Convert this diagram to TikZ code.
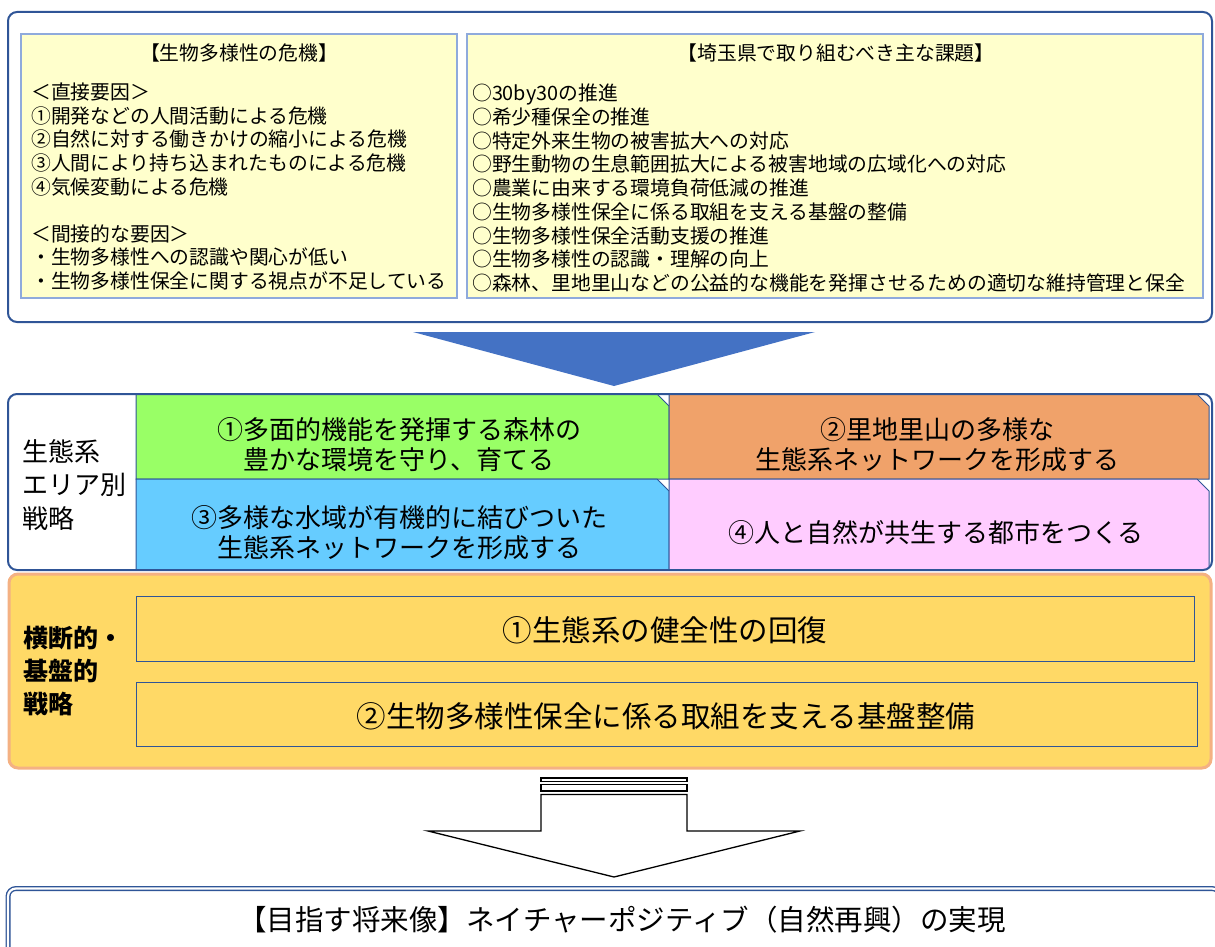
\documentclass[tikz,border=0pt]{standalone}
\usepackage{fontspec}
\setmainfont{Noto Sans CJK JP}

\definecolor{framebl}{HTML}{2F5597}
\definecolor{paleyel}{HTML}{FFFFCC}
\definecolor{edgebl}{HTML}{8FAADC}
\definecolor{arrowbl}{HTML}{4472C4}
\definecolor{forestgr}{HTML}{99FF66}
\definecolor{satoor}{HTML}{F0A26A}
\definecolor{waterbl}{HTML}{66CCFF}
\definecolor{citypk}{HTML}{FFCCFF}
\definecolor{baseyel}{HTML}{FFD966}
\definecolor{baseedge}{HTML}{F4B183}

\tikzset{
  outerbox/.style={draw=framebl, line width=2pt, rounded corners=9pt},
  listbox/.style={draw=edgebl, line width=1.2pt, fill=paleyel},
  cellbox/.style={draw=framebl, line width=1pt},
  listtxt/.style={inner sep=0pt, align=left, anchor=north west,
    font=\fontsize{19.8}{23.7}\selectfont},
  celltxt/.style={inner sep=0pt, align=center,
    font=\fontsize{26}{30}\selectfont},
  sidetxt/.style={inner sep=0pt, align=left, anchor=north west},
  hollowarrow/.style={draw=black, fill=white, line width=1.3pt, line join=miter},
}

\begin{document}
\begin{tikzpicture}[x=1pt, y=-1pt]
  \useasboundingbox (0,0) rectangle (1215,947);
  \clip (0,0) rectangle (1215,947);

  % issues
  \draw[outerbox, fill=white] (8,12) rectangle (1212,322);
  \draw[listbox] (21,34) rectangle (457,298);
  \draw[listbox] (467,34) rectangle (1203,298);

  \node[listtxt, anchor=center] (crisis) at (239,53) {【生物多様性の危機】};
  \node[listtxt] (crisislist) at (31,82.5)
    {＜直接要因＞\\
     ①開発などの人間活動による危機\\
     ②自然に対する働きかけの縮小による危機\\
     ③人間により持ち込まれたものによる危機\\
     ④気候変動による危機\\[23.4pt]
     ＜間接的な要因＞\\
     ・生物多様性への認識や関心が低い\\
     ・生物多様性保全に関する視点が不足している};

  \node[listtxt, anchor=center] (tasks) at (836,53) {【埼玉県で取り組むべき主な課題】};
  \node[listtxt] (tasklist) at (472,84)
    {○30by30の推進\\
     ○希少種保全の推進\\
     ○特定外来生物の被害拡大への対応\\
     ○野生動物の生息範囲拡大による被害地域の広域化への対応\\
     ○農業に由来する環境負荷低減の推進\\
     ○生物多様性保全に係る取組を支える基盤の整備\\
     ○生物多様性保全活動支援の推進\\
     ○生物多様性の認識・理解の向上\\
     ○森林、里地里山などの公益的な機能を発揮させるための適切な維持管理と保全};

  \fill[arrowbl] (413,332) -- (815,332) -- (614,386) -- cycle;

  % area strategies
  \fill[white, rounded corners=9pt] (8,394) rectangle (1212,570);
  \begin{scope}
    \clip[rounded corners=9pt] (8,394) rectangle (1212,570);
    \draw[cellbox, fill=forestgr]
      (136,394) -- (657,394) -- (669,406) -- (669,479) -- (136,479) -- cycle;
    \draw[cellbox, fill=satoor]
      (669,394) -- (1197,394) -- (1209,406) -- (1209,479) -- (669,479) -- cycle;
    \draw[cellbox, fill=waterbl]
      (136,479) -- (657,479) -- (669,491) -- (669,570) -- (136,570) -- cycle;
    \draw[cellbox, fill=citypk]
      (669,479) -- (1197,479) -- (1209,491) -- (1209,570) -- (669,570) -- cycle;
  \end{scope}
  \draw[outerbox] (8,394) rectangle (1212,570);

  \node[sidetxt, font=\fontsize{26}{33.5}\selectfont] (arealbl) at (22,439)
    {生態系\\エリア別\\戦略};
  \node[celltxt] (forest) at (399,445) {①多面的機能を発揮する森林の\\豊かな環境を守り、育てる};
  \node[celltxt] (satoyama) at (937,445) {②里地里山の多様な\\生態系ネットワークを形成する};
  \node[celltxt] (water) at (399,533) {③多様な水域が有機的に結びついた\\生態系ネットワークを形成する};
  \node[celltxt] (city) at (936,533) {④人と自然が共生する都市をつくる};

  % cross-cutting strategies
  \draw[draw=baseedge, line width=3pt, fill=baseyel, rounded corners=9pt]
    (9,574) rectangle (1211,768);
  \draw[cellbox, fill=baseyel] (136,596) rectangle (1194,661);
  \draw[cellbox, fill=baseyel] (136,682) rectangle (1197,746);

  \node[sidetxt, font=\fontsize{25}{33}\selectfont\bfseries] (baselbl) at (23,626)
    {横断的・\\基盤的\\戦略};
  \node[celltxt, font=\fontsize{29.5}{34}\selectfont] (health) at (665,630)
    {①生態系の健全性の回復};
  \node[celltxt, font=\fontsize{29.5}{34}\selectfont] (infra) at (666,716)
    {②生物多様性保全に係る取組を支える基盤整備};

  \draw[hollowarrow] (541,778) rectangle (687,781.5);
  \draw[hollowarrow] (541,784.5) rectangle (687,791);
  \draw[hollowarrow] (541,794.5) -- (687,794.5) -- (687,831) -- (800,831)
    -- (614,877) -- (428,831) -- (541,831) -- cycle;

  % goal
  \draw[draw=framebl, line width=1.4pt, double=white, double distance=2.2pt,
    rounded corners=8pt] (8,888.5) rectangle (1220,990);
  \node[celltxt, font=\fontsize{28.5}{34}\selectfont] (goal) at (622,920)
    {【目指す将来像】ネイチャーポジティブ（自然再興）の実現};
\end{tikzpicture}
\end{document}
